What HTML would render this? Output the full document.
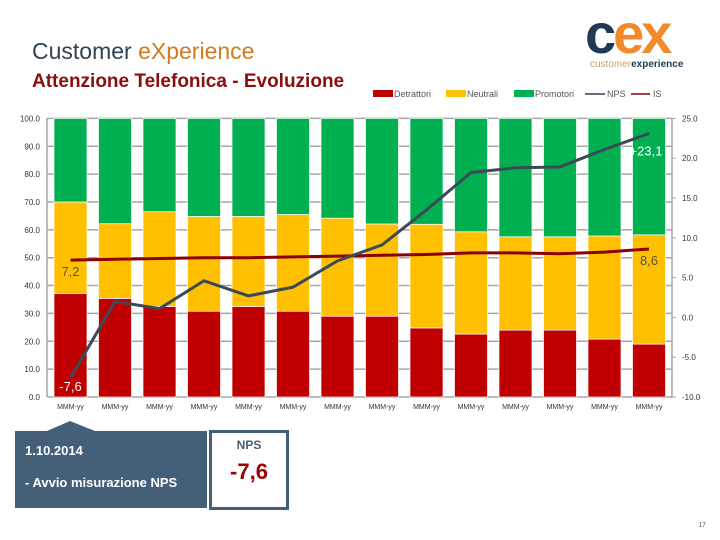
<!DOCTYPE html>
<html><head><meta charset="utf-8"><style>
body{margin:0;background:#fff;font-family:"Liberation Sans",sans-serif}
svg{display:block}
</style></head><body>
<svg width="720" height="540" viewBox="0 0 720 540" xmlns="http://www.w3.org/2000/svg" font-family="Liberation Sans, sans-serif">
<text x="32" y="59" font-size="23" fill="#2f4252">Customer <tspan fill="#d07b1f">eXperience</tspan></text>
<text x="32" y="87" font-size="19" font-weight="bold" fill="#8b0d0d">Attenzione Telefonica - Evoluzione</text>
<g>
<text x="585" y="53" font-size="56" font-weight="bold" fill="#1f3a52" letter-spacing="-3">c<tspan fill="#f08a2a">ex</tspan></text>
<text x="590" y="67" font-size="10" fill="#c8a070">customer<tspan fill="#1f3a52" font-weight="bold">experience</tspan></text>
</g>
<g font-size="9" fill="#555">
<rect x="373" y="90" width="20" height="7" fill="#c00000"/><text x="394" y="97">Detrattori</text>
<rect x="446" y="90" width="20" height="7" fill="#ffc000"/><text x="467" y="97">Neutrali</text>
<rect x="514" y="90" width="20" height="7" fill="#00b050"/><text x="535" y="97">Promotori</text>
<line x1="585" y1="94" x2="605" y2="94" stroke="#2f4252" stroke-width="1.5"/><text x="607" y="97">NPS</text>
<line x1="631" y1="94" x2="650" y2="94" stroke="#800000" stroke-width="1.5"/><text x="653" y="97">IS</text>
</g>
<g id="chart"></g>
<g>
<polygon points="15,431 47,431 70,421 95,431 207,431 207,508 15,508" fill="#436078"/>
<text x="25" y="455" font-size="13" font-weight="bold" fill="#fff">1.10.2014</text>
<text x="25" y="487" font-size="13" font-weight="bold" fill="#fff">- Avvio misurazione NPS</text>
</g>
<g>
<rect x="210.5" y="431.5" width="77" height="77" fill="#fff" stroke="#436078" stroke-width="3"/>
<text x="249" y="449" font-size="12" font-weight="bold" fill="#436078" text-anchor="middle">NPS</text>
<text x="249" y="479" font-size="22" font-weight="bold" fill="#a00000" text-anchor="middle">-7,6</text>
</g>
<text x="706" y="527" font-size="7" fill="#436078" text-anchor="end">17</text>
</svg>
<script>
const categories=["MMM-yy","MMM-yy","MMM-yy","MMM-yy","MMM-yy","MMM-yy","MMM-yy","MMM-yy","MMM-yy","MMM-yy","MMM-yy","MMM-yy","MMM-yy","MMM-yy"];
const detrattori=[37.2,35.4,32.5,30.8,32.5,30.8,29,29,24.8,22.6,24,24,20.8,19];
const neutrali=[32.8,26.8,34,34,32.3,34.7,35.2,33.1,37.2,36.7,33.5,33.5,37,39.2];
const promotori=[30,37.8,33.5,35.2,35.2,34.5,35.8,37.9,38,40.7,42.5,42.5,42.2,41.8];
const nps=[-7.6,2.0,1.1,4.6,2.7,3.8,7.1,9.1,13.5,18.2,18.8,18.9,21.1,23.1];
const is=[7.2,7.3,7.4,7.5,7.5,7.6,7.7,7.8,7.9,8.1,8.1,8.0,8.2,8.6];
const leftTicks=[0,10,20,30,40,50,60,70,80,90,100];
const rightTicks=[-10,-5,0,5,10,15,20,25];
const NS="http://www.w3.org/2000/svg";
const g=document.getElementById('chart');
const X0=47,X1=672,YB=397,YT=118.4;
const yL=v=>YB-(v/100)*(YB-YT);
const yR=v=>YB-((v+10)/35)*(YB-YT);
const pitch=(X1-X0-2)/categories.length;
const xC=i=>X0+7+pitch*i+16.5;
function el(t,a){const e=document.createElementNS(NS,t);for(const k in a)e.setAttribute(k,a[k]);g.appendChild(e);return e;}
leftTicks.forEach(t=>{
 const l=el('line',{x1:X0,x2:X1,y1:yL(t),y2:yL(t),stroke:'#a6a6a6','stroke-width':1.5});
 
 
 const tx=el('text',{x:X0-7,y:yL(t)+3,'font-size':8,fill:'#333','text-anchor':'end'});
 tx.textContent=t.toFixed(1);
 
 
});
rightTicks.forEach(t=>{
 el('line',{x1:X1,x2:X1+4,y1:yR(t),y2:yR(t),stroke:'#a6a6a6','stroke-width':1});
 const tx=el('text',{x:X1+10,y:yR(t)+3,'font-size':8,fill:'#333'});
 tx.textContent=t.toFixed(1);
 
 
});
el('line',{x1:X0,x2:X0,y1:YT,y2:YB,stroke:'#a6a6a6','stroke-width':1.5});
el('line',{x1:X1,x2:X1,y1:YT,y2:YB,stroke:'#a6a6a6','stroke-width':1.5});
categories.forEach((c,i)=>{
 const x=xC(i)-16.5;
 let base=0;
 [[detrattori,'#c00000','bar-detrattori'],[neutrali,'#ffc000','bar-neutrali'],[promotori,'#00b050','bar-promotori']].forEach(([arr,col,nm])=>{
  const y0=yL(base),y1=yL(Math.min(100,base+arr[i]));
  const r=el('rect',{x:x,y:y1,width:33,height:y0-y1,fill:col,stroke:'#fff','stroke-width':0.7});
  
  
  base+=arr[i];
 });
 const tx=el('text',{x:xC(i),y:409,'font-size':7,fill:'#333','text-anchor':'middle'});
 tx.textContent=c;
 
 
});
const isL=el('polyline',{points:is.map((v,i)=>xC(i)+','+yR(v)).join(' '),fill:'none',stroke:'#8b0000','stroke-width':3});


const npsL=el('polyline',{points:nps.map((v,i)=>xC(i)+','+yR(v)).join(' '),fill:'none',stroke:'#3b4a55','stroke-width':3});


function lab(x,y,t,c,nm){const e=el('text',{x:x,y:y,'font-size':13,fill:c,'text-anchor':'middle'});e.textContent=t;}
lab(xC(0),391,'-7,6','#fff','nps-first-label');
lab(xC(13)-3,yR(nps[13])+22,'+23,1','#fff','nps-last-label');
lab(xC(0),yR(is[0])+16,'7,2','#555','is-first-label');
lab(xC(13),yR(is[13])+16,'8,6','#555','is-last-label');
</script>
</body></html>
